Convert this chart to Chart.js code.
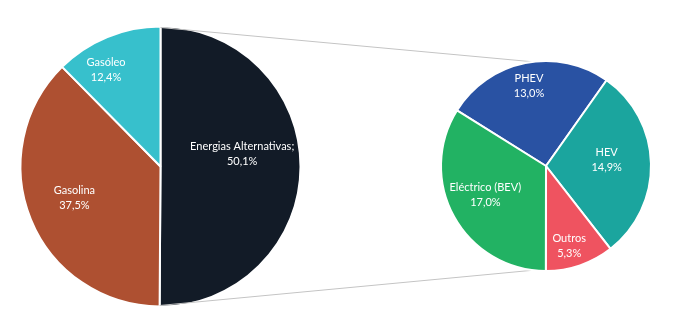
<!DOCTYPE html>
<html lang="pt">
<head>
<meta charset="utf-8">
<script src="https://cdn.jsdelivr.net/npm/chart.js@4.4.1/dist/chart.umd.min.js"></script>
<style>
    html, body { margin: 0; padding: 0; background: #ffffff; }
    #wrap { position: relative; width: 676px; height: 336px; }
    #wrap canvas { position: absolute; left: 0; top: 0; }
</style>
</head>
<body>
<div id="wrap">
    <canvas id="mainPie" width="676" height="336"></canvas>
    <canvas id="detailPie" width="676" height="336"></canvas>
</div>
<script>
// main split: fuel type
const mainLabels = ["Energias Alternativas;", "Gasolina", "Gasóleo"];
const mainValues = [50.1, 37.5, 12.4];
const mainColors = ["#121b27", "#ae5031", "#37c0cc"];

// breakdown of the alternative energies slice
const detailLabels = ["PHEV", "HEV", "Outros", "Eléctrico (BEV)"];
const detailValues = [13.0, 14.9, 5.3, 17.0];
const detailColors = ["#2952a3", "#1ba59e", "#ef5360", "#22b263"];

// where each label sits inside its slice: fraction of radius + angle nudge (deg)
const mainLabelPos = { r: [0.59, 0.655, 0.79], shift: [-8.7, 2, -7.2] };
const detailLabelPos = { r: [0.78, 0.58, 0.79, 0.64], shift: [-0.6, -4, 2.7, 3.4] };

const FONT = "11px Lato, 'Open Sans', sans-serif";

function fmtPct(v) {
    return v.toFixed(1).replace(".", ",") + "%";
}

function sliceLabels(labels, values, pos) {
    return {
        id: "sliceLabels",
        afterDatasetsDraw(chart) {
            const ctx = chart.ctx;
            const arcs = chart.getDatasetMeta(0).data;
            ctx.save();
            ctx.font = FONT;
            ctx.fillStyle = "#ffffff";
            ctx.textAlign = "center";
            ctx.textBaseline = "middle";
            arcs.forEach((arc, i) => {
                const p = arc.getProps(["x", "y", "startAngle", "endAngle", "outerRadius"], true);
                const a = (p.startAngle + p.endAngle) / 2 + pos.shift[i] * Math.PI / 180;
                const r = p.outerRadius * pos.r[i];
                const lx = p.x + r * Math.cos(a);
                const ly = p.y + r * Math.sin(a);
                ctx.fillText(labels[i], lx, ly - 7.5);
                ctx.fillText(fmtPct(values[i]), lx, ly + 7.5);
            });
            ctx.restore();
        }
    };
}

const baseOptions = {
    responsive: false,
    animation: false,
    events: [],
    plugins: { legend: { display: false }, tooltip: { enabled: false } }
};

const mainChart = new Chart(document.getElementById("mainPie"), {
    type: "pie",
    data: {
        labels: mainLabels,
        datasets: [{
            data: mainValues,
            backgroundColor: mainColors,
            borderColor: "#ffffff",
            borderWidth: 2,
            hoverOffset: 0,
            radius: 140
        }]
    },
    options: Object.assign({}, baseOptions, {
        rotation: 0,
        layout: { padding: { left: 0, right: 355, top: 0, bottom: 3 } }
    }),
    plugins: [sliceLabels(mainLabels, mainValues, mainLabelPos)]
});

// grey lines from the alternative-energy slice edges to the second pie
const connectors = {
    id: "connectors",
    beforeDatasetsDraw(chart) {
        const src = mainChart.getDatasetMeta(0).data[0];
        const s = src.getProps(["x", "y", "startAngle", "endAngle", "outerRadius"], true);
        const rs = s.outerRadius - 1;
        const dst = chart.getDatasetMeta(0).data[0];
        const d = dst.getProps(["x", "y", "outerRadius"], true);
        const ctx = chart.ctx;
        ctx.save();
        ctx.strokeStyle = "#c4c4c4";
        ctx.lineWidth = 1;
        ctx.beginPath();
        ctx.moveTo(s.x + rs * Math.cos(s.startAngle), s.y + rs * Math.sin(s.startAngle));
        ctx.lineTo(d.x, d.y - d.outerRadius + 2);
        ctx.moveTo(s.x + rs * Math.cos(s.endAngle), s.y + rs * Math.sin(s.endAngle));
        ctx.lineTo(d.x, d.y + d.outerRadius - 2);
        ctx.stroke();
        ctx.restore();
    }
};

new Chart(document.getElementById("detailPie"), {
    type: "pie",
    data: {
        labels: detailLabels,
        datasets: [{
            data: detailValues,
            backgroundColor: detailColors,
            borderColor: "#ffffff",
            borderWidth: 2,
            hoverOffset: 0,
            radius: 105
        }]
    },
    options: Object.assign({}, baseOptions, {
        rotation: -58,
        layout: { padding: { left: 416, right: 0, top: 0, bottom: 4 } }
    }),
    plugins: [connectors, sliceLabels(detailLabels, detailValues, detailLabelPos)]
});
</script>
</body>
</html>
